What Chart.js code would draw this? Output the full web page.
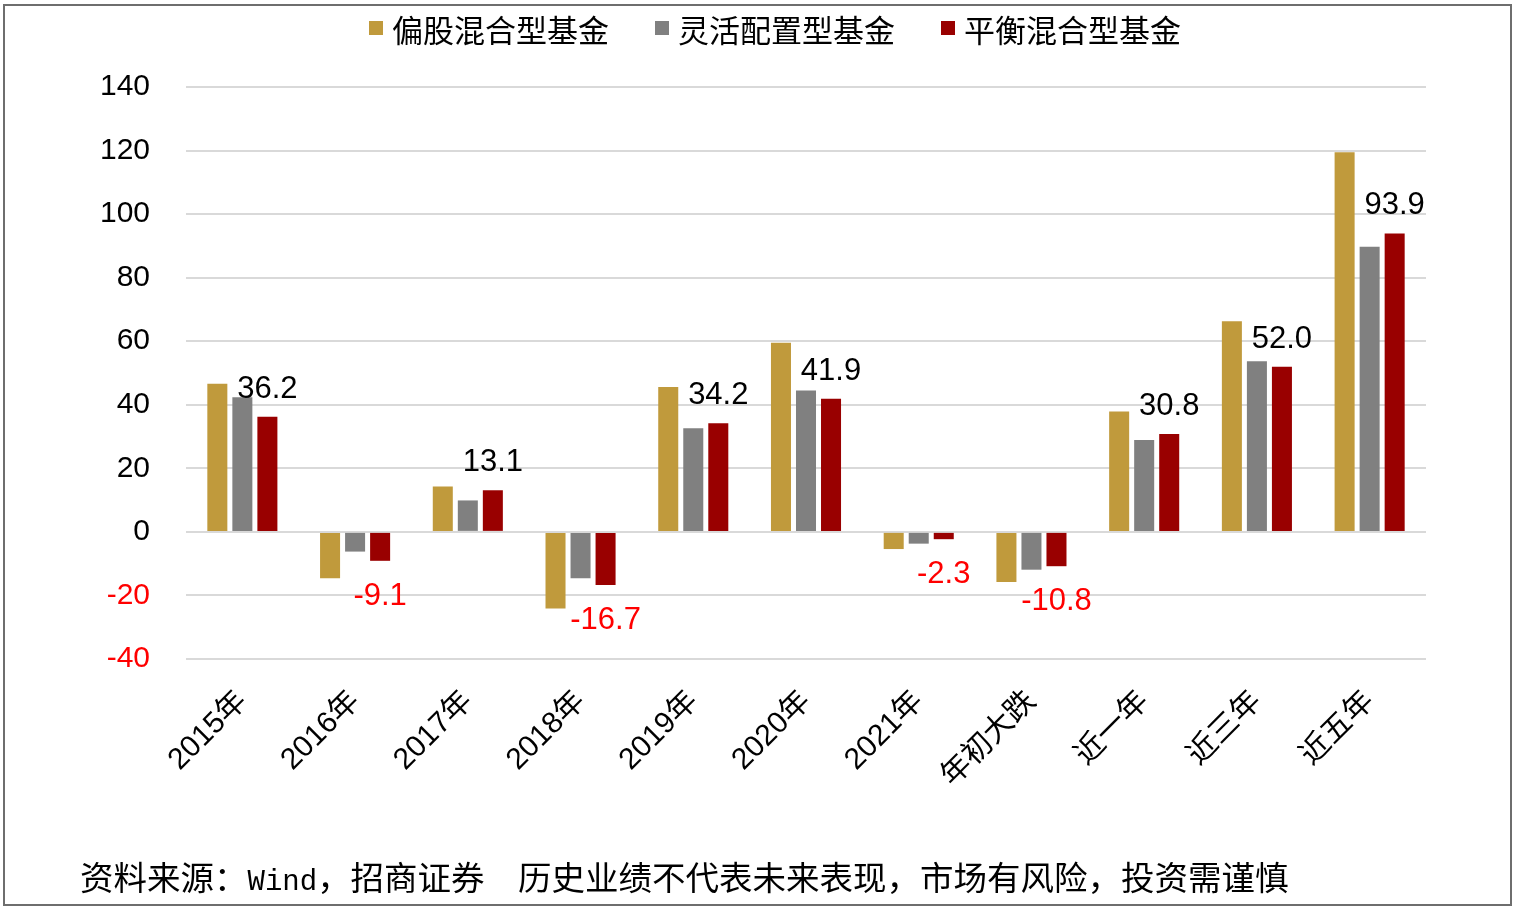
<!DOCTYPE html>
<html>
<head>
<meta charset="utf-8">
<script src="https://cdn.jsdelivr.net/npm/chart.js@4.4.0/dist/chart.umd.min.js"></script>
<style>
  html, body { margin: 0; padding: 0; background: #fff; }
  #wrap { position: relative; width: 1518px; height: 910px; overflow: hidden; background: #fff; }
  #frame { position: absolute; left: 3px; top: 4px; width: 1505px; height: 898px; border: 2px solid #6e6e6e; pointer-events: none; }
  canvas { position: absolute; left: 0; top: 0; }
  #legend { position: absolute; left: 369px; top: 8px; height: 40px; display: flex; align-items: center; font-family: "Noto Sans CJK SC", sans-serif; font-size: 31px; color: #000; white-space: nowrap; }
  .item { display: flex; align-items: center; margin-right: 46px; }
  .sw { width: 14px; height: 14px; margin-right: 9px; }
  #footer { position: absolute; left: 80px; top: 853px; font-family: "Noto Sans CJK SC", sans-serif; font-size: 33.5px; color: #000; white-space: pre; line-height: 46px; }
  #footer .lat { font-family: "Liberation Mono", "DejaVu Sans Mono", monospace; font-size: 29px; }
</style>
</head>
<body>
<div id="wrap">
  <canvas id="c" width="1518" height="910"></canvas>
  <div id="legend"></div>
  <div id="footer"></div>
  <div id="frame"></div>
</div>
<script>
const categories = ["2015年", "2016年", "2017年", "2018年", "2019年", "2020年", "2021年", "年初大跌", "近一年", "近三年", "近五年"];
const seriesNames = ["偏股混合型基金", "灵活配置型基金", "平衡混合型基金"];
const equityHybrid = [46.6, -14.6, 14.3, -24.1, 45.6, 59.5, -5.4, -15.8, 37.9, 66.3, 119.5];
const flexible = [42.4, -6.2, 9.9, -14.6, 32.6, 44.5, -3.7, -11.9, 28.9, 53.7, 89.7];
const balanced = [36.2, -9.1, 13.1, -16.7, 34.2, 41.9, -2.3, -10.8, 30.8, 52.0, 93.9];
const yTicks = [-40, -20, 0, 20, 40, 60, 80, 100, 120, 140];
const footerParts = ["资料来源：", "Wind", "，招商证券　历史业绩不代表未来表现，市场有风险，投资需谨慎"];

const colors = ["#C09A3C", "#808080", "#990000"];

const legend = document.getElementById('legend');
seriesNames.forEach((n, i) => {
  const it = document.createElement('div');
  it.className = 'item';
  const sw = document.createElement('div');
  sw.className = 'sw';
  sw.style.background = colors[i];
  const t = document.createElement('span');
  t.textContent = n;
  it.appendChild(sw); it.appendChild(t);
  legend.appendChild(it);
});

const footer = document.getElementById('footer');
footerParts.forEach((p, i) => {
  const s = document.createElement('span');
  s.textContent = p;
  if (i === 1) s.className = 'lat';
  footer.appendChild(s);
});

const labelPlugin = {
  id: 'valueLabels',
  afterDatasetsDraw(chart) {
    const ctx = chart.ctx;
    const meta = chart.getDatasetMeta(2);
    ctx.save();
    ctx.font = '31px "Liberation Sans", Arial, sans-serif';
    ctx.textAlign = 'center';
    ctx.textBaseline = 'alphabetic';
    meta.data.forEach((bar, i) => {
      const v = balanced[i];
      const txt = v.toFixed(1);
      if (v >= 0) {
        ctx.fillStyle = '#000000';
        ctx.fillText(txt, bar.x, bar.y - 19);
      } else {
        ctx.fillStyle = '#FF0000';
        ctx.fillText(txt, bar.x, bar.y + 44);
      }
    });
    ctx.restore();
  }
};

const mk = (label, data, color) => ({
  label, data, backgroundColor: color, borderWidth: 0,
  categoryPercentage: 0.666, barPercentage: 0.8
});

new Chart(document.getElementById('c'), {
  type: 'bar',
  data: {
    labels: categories,
    datasets: [
      mk(seriesNames[0], equityHybrid, colors[0]),
      mk(seriesNames[1], flexible, colors[1]),
      mk(seriesNames[2], balanced, colors[2])
    ]
  },
  options: {
    responsive: false,
    animation: false,
    devicePixelRatio: 1,
    layout: { padding: { top: 87, right: 92, left: 0, bottom: 0 } },
    plugins: { legend: { display: false }, tooltip: { enabled: false } },
    scales: {
      x: {
        grid: { display: false, drawTicks: false },
        border: { display: false },
        ticks: {
          color: '#000',
          font: { size: 30, family: '"Liberation Sans", Arial, "Noto Sans CJK SC", sans-serif' },
          minRotation: 45, maxRotation: 45, padding: 25, autoSkip: false
        },
        afterFit(s) { s.height = 251; }
      },
      y: {
        min: -40, max: 140,
        afterBuildTicks(s) { s.ticks = yTicks.map(v => ({ value: v })); },
        grid: { color: '#d9d9d9', lineWidth: 2, drawTicks: false },
        border: { display: false },
        ticks: {
          padding: 36,
          color: (c) => (c.tick && c.tick.value < 0) ? '#FF0000' : '#000000',
          font: { size: 30, family: '"Liberation Sans", Arial, sans-serif' }
        },
        afterFit(s) { s.width = 186; }
      }
    }
  },
  plugins: [labelPlugin]
});
</script>
</body>
</html>
